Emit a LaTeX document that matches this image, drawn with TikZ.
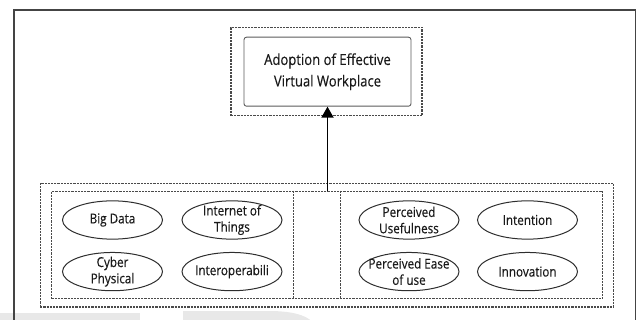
\documentclass[tikz,border=0pt]{standalone}
\usepackage{fontspec}
\setmainfont{Open Sans}[FakeStretch=0.86, FakeBold=0.35]
\usetikzlibrary{arrows.meta,shapes.geometric}

\definecolor{framegrey}{HTML}{444444}
\definecolor{dashgrey}{HTML}{4A4A4A}
\definecolor{ovalgrey}{HTML}{2E2E2E}
\definecolor{boxgrey}{HTML}{5A5A5A}
\definecolor{ink}{HTML}{1A1A1A}
\definecolor{markgrey}{HTML}{E8E8E8}

\tikzset{
  dashbox/.style={draw=dashgrey, line width=1.05pt, dash pattern=on 2.2pt off 1pt, inner sep=0pt},
  oval/.style={ellipse, draw=ovalgrey, line width=1pt, minimum width=100pt, minimum height=38.3pt, inner sep=0pt},
  ovaltext/.style={text=ink, font=\fontsize{13.6}{16.3}\selectfont, align=center, inner sep=0pt},
  goalbox/.style={draw=boxgrey, line width=0.9pt, rounded corners=2.5pt, inner sep=0pt},
  goaltext/.style={text=ink, font=\fontsize{15.2}{21.5}\selectfont, align=center, inner sep=0pt},
  framestroke/.style={draw=framegrey, line width=1.7pt},
  upflow/.style={draw=black, line width=1.8pt, -{Triangle[length=11pt,width=12pt]}}
}

\begin{document}
\begin{tikzpicture}[x=1pt,y=-1pt]
  \useasboundingbox (0,0) rectangle (637,320);
  \clip (0,0) rectangle (637,320);

  % light background marks along the lower edge
  \fill[markgrey] (0,313) rectangle (140,330);
  \fill[markgrey] (183,311) -- (268,311) .. controls (296,311) and (312,316) .. (318,330) -- (183,330) -- cycle;

  % page frame
  \draw[framestroke] (13.7,330) -- (13.7,9.7) -- (635.5,9.7) -- (635.5,330);

  % goal
  \node[dashbox, minimum width=191pt, minimum height=88.4pt] (goalframe) at (326.5,71.6) {};
  \node[goalbox, minimum width=167pt, minimum height=69pt] (goal) at (327.5,71.7) {};
  \node[goaltext] (goallabel) at (goal) {Adoption of Effective\\Virtual Workplace};

  % factor groups
  \node[dashbox, minimum width=573.3pt, minimum height=123.9pt] (outer) at (326.85,245.05) {};
  \node[dashbox, minimum width=550.9pt, minimum height=107.4pt] (inner) at (327.05,244.9) {};
  \coordinate (d1) at (293.6,0);
  \coordinate (d2) at (340.1,0);
  \draw[dashbox] (inner.north -| d1) -- (inner.south -| d1);
  \draw[dashbox] (inner.north -| d2) -- (inner.south -| d2);

  % technology factors
  \node[oval] (bigdata) at (112.5,220) {};
  \node[oval] (iot) at (232,220) {};
  \node[oval] (cps) at (112.5,271.6) {};
  \node[oval] (interop) at (232,271.6) {};
  \node[ovaltext] (bigdatat) at (bigdata) {Big Data};
  \node[ovaltext] (iott) at (iot) {Internet of\\Things};
  \node[ovaltext] (cpst) at (cps) {Cyber\\Physical};
  \node[ovaltext] (interopt) at (interop) {Interoperabili};

  % acceptance factors
  \node[oval] (pu) at (409,220) {};
  \node[oval] (intent) at (527.5,220) {};
  \node[oval] (peou) at (409,271.6) {};
  \node[oval] (innov) at (527.5,271.6) {};
  \node[ovaltext] (put) at (pu) {Perceived\\Usefulness};
  \node[ovaltext] (intentt) at (intent) {Intention};
  \node[ovaltext] (peout) at (peou) {Perceived Ease\\of use};
  \node[ovaltext] (innovt) at (innov) {Innovation};

  % influence on adoption
  \draw[upflow] (inner.north -| goal.south) -- (goal.south);
\end{tikzpicture}
\end{document}
